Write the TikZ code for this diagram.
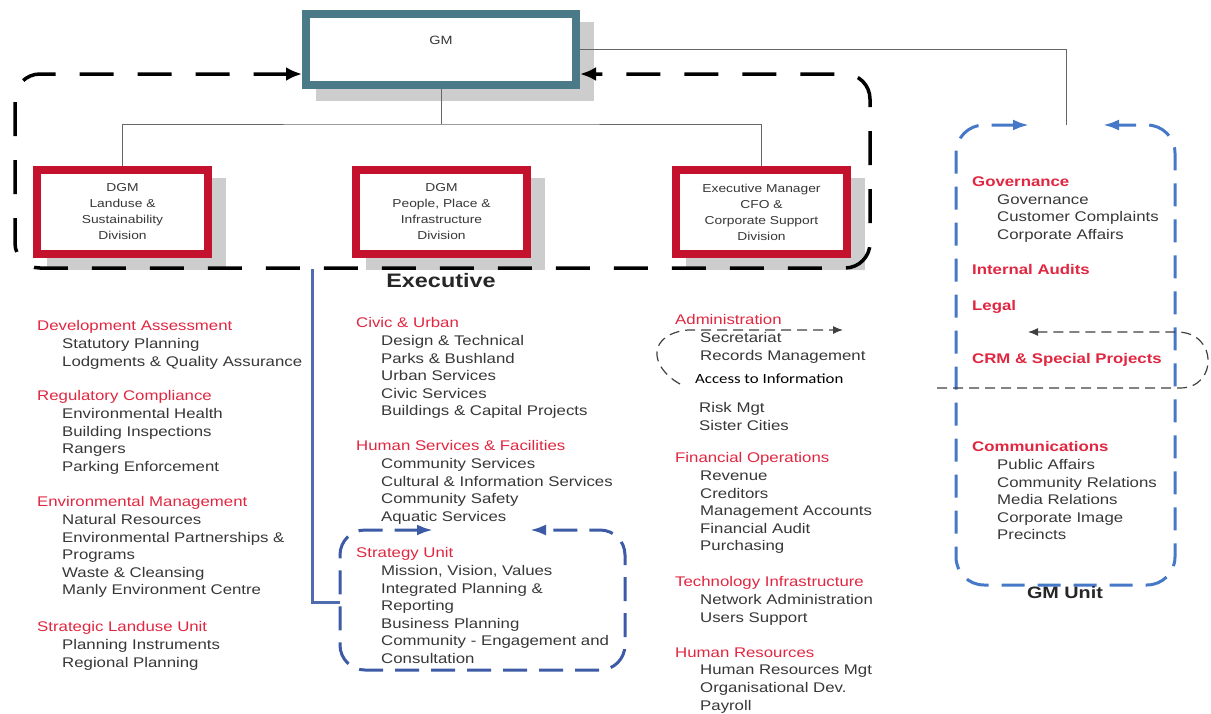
\documentclass[tikz,border=0pt]{standalone}
\usepackage{fontspec}
\setmainfont{Liberation Sans}[FakeStretch=1.2]
\newfontfamily\accfont{Carlito}[FakeStretch=1.2]
\usetikzlibrary{arrows.meta,shadows}

\definecolor{gmteal}{RGB}{74,122,136}
\definecolor{divred}{RGB}{196,18,46}
\definecolor{hdred}{RGB}{224,38,64}
\definecolor{itemgray}{RGB}{55,55,55}
\definecolor{unitblue}{RGB}{70,120,200}
\definecolor{stratblue}{RGB}{60,90,165}
\definecolor{shadowgray}{RGB}{205,205,205}

\newcommand{\hd}[1]{\textcolor{hdred}{#1}}
\newcommand{\bhd}[1]{\textcolor{hdred}{\bfseries #1}}
\newcommand{\itm}[1]{\hspace*{25pt}#1}

\tikzset{
  boxshadow/.style={general shadow={fill=shadowgray,draw=shadowgray,line width=8pt,
      shadow xshift=14pt,shadow yshift=-12pt}},
  gmbox/.style={draw=gmteal,line width=8pt,fill=white,minimum width=270pt,
      minimum height=71pt,inner sep=0pt,boxshadow},
  divbox/.style={draw=divred,line width=8pt,fill=white,minimum width=171pt,
      minimum height=84pt,inner sep=0pt,align=center,text=itemgray,
      font=\fontsize{11.5}{16}\selectfont,boxshadow},
  listtxt/.style={anchor=north west,inner sep=0pt,align=left,text=itemgray,
      font=\fontsize{14}{17.6}\selectfont},
  tree/.style={draw=black!60,line width=1pt},
  execloop/.style={line width=3.5pt,dash pattern=on 34pt off 24pt,rounded corners=25pt,
      {Latex[length=16pt,width=14pt]}-{Latex[length=16pt,width=14pt]}},
  unitloop/.style={draw=unitblue,line width=3pt,dash pattern=on 23pt off 13pt,rounded corners=28pt,
      {Latex[length=16pt,width=11pt]}-{Latex[length=16pt,width=11pt]}},
  stratloop/.style={draw=stratblue,line width=3pt,dash pattern=on 24pt off 12pt,rounded corners=25pt,
      {Latex[length=16pt,width=11pt]}-{Latex[length=16pt,width=11pt]}},
  thinloop/.style={draw=black!75,line width=1.2pt,dash pattern=on 10pt off 6pt,
      -{Latex[length=10pt,width=8pt]}},
}

\begin{document}
\begin{tikzpicture}[x=1pt,y=-1pt]
\useasboundingbox (0,0) rectangle (1211,713);

% boxes
\node[gmbox] (gm) at (441,49.5) {};
\node[font=\fontsize{12}{14}\selectfont,text=itemgray] (gmlbl) at (441,40) {GM};
\node[divbox] (dgmland) at (122.5,212) {DGM\\Landuse \&\\Sustainability\\Division};
\node[divbox] (dgmppi) at (441.5,212) {DGM\\People, Place \&\\Infrastructure\\Division};
\node[divbox] (cfo) at (761.5,212) {Executive Manager\\CFO \&\\Corporate Support\\Division};

% tree
\coordinate (bus) at (441,124);
\coordinate (gmutop) at (1066,125);
\draw[tree] (gm.south) -- (bus);
\draw[tree] (dgmland.north) |- (bus) -| (cfo.north);
\draw[tree] (gm.east) -| (gmutop);

% executive loop
\coordinate (execy) at (0,74);
\draw[execloop] (gm.west |- execy) -- (15,74) -- (15,268) -- (870,268) -- (870,74) -- (gm.east |- execy);
\node[font=\fontsize{19.5}{22}\selectfont\bfseries,text=black!85] (execlbl) at (441,281) {Executive};

% GM unit loop
\draw[unitloop] (1029,125) -- (956,125) -- (956,585) -- (1175,585) -- (1175,125) -- (1103,125);
\node[font=\fontsize{16.5}{18}\selectfont\bfseries,text=black!85] (gmunitlbl) at (1065,593) {GM Unit};

% strategy unit loop
\coordinate (stratleft) at (340,602);
\draw[stratloop] (433,530) -- (340,530) -- (340,670) -- (625,670) -- (625,530) -- (530,530);
\draw[draw=stratblue!90,line width=3pt] (312,269) |- (stratleft);

% small dashed loops
\draw[thinloop] (680,384) .. controls (648,366) and (648,334) .. (688,330) -- (843,330);
\draw[thinloop] (937,388) -- (1180,388) .. controls (1218,388) and (1218,332) .. (1177,332) -- (1028,332);

% landuse column
\node[listtxt] (devass) at (37,320.5) {\hd{Development Assessment}\\\itm{Statutory Planning}\\\itm{Lodgments \& Quality Assurance}};
\node[listtxt] (regcomp) at (37,390.5) {\hd{Regulatory Compliance}\\\itm{Environmental Health}\\\itm{Building Inspections}\\\itm{Rangers}\\\itm{Parking Enforcement}};
\node[listtxt] (envman) at (37,496.5) {\hd{Environmental Management}\\\itm{Natural Resources}\\\itm{Environmental Partnerships \&}\\\itm{Programs}\\\itm{Waste \& Cleansing}\\\itm{Manly Environment Centre}};
\node[listtxt] (stratland) at (37,621.5) {\hd{Strategic Landuse Unit}\\\itm{Planning Instruments}\\\itm{Regional Planning}};

% people place column
\node[listtxt] (civic) at (356,317.5) {\hd{Civic \& Urban}\\\itm{Design \& Technical}\\\itm{Parks \& Bushland}\\\itm{Urban Services}\\\itm{Civic Services}\\\itm{Buildings \& Capital Projects}};
\node[listtxt] (humserv) at (356,440.5) {\hd{Human Services \& Facilities}\\\itm{Community Services}\\\itm{Cultural \& Information Services}\\\itm{Community Safety}\\\itm{Aquatic Services}};
\node[listtxt] (stratunit) at (356,547.5) {\hd{Strategy Unit}\\\itm{Mission, Vision, Values}\\\itm{Integrated Planning \&}\\\itm{Reporting}\\\itm{Business Planning}\\\itm{Community - Engagement and}\\\itm{Consultation}};

% corporate column
\node[listtxt] (admin) at (675,314.5) {\hd{Administration}\\\itm{Secretariat}\\\itm{Records Management}};
\node[listtxt,text=black,font=\accfont\fontsize{14}{17}\selectfont] (access) at (695,373.5) {Access to Information};
\node[listtxt] (riskmgt) at (699,402.5) {Risk Mgt\\Sister Cities};
\node[listtxt] (finops) at (675,452.5) {\hd{Financial Operations}\\\itm{Revenue}\\\itm{Creditors}\\\itm{Management Accounts}\\\itm{Financial Audit}\\\itm{Purchasing}};
\node[listtxt] (techinf) at (675,576.5) {\hd{Technology Infrastructure}\\\itm{Network Administration}\\\itm{Users Support}};
\node[listtxt] (humres) at (675,647.5) {\hd{Human Resources}\\\itm{Human Resources Mgt}\\\itm{Organisational Dev.}\\\itm{Payroll}};

% GM unit column
\node[listtxt] (govern) at (972,176.5) {\bhd{Governance}\\\itm{Governance}\\\itm{Customer Complaints}\\\itm{Corporate Affairs}};
\node[listtxt] (audits) at (972,264.5) {\bhd{Internal Audits}};
\node[listtxt] (legal) at (972,300.5) {\bhd{Legal}};
\node[listtxt] (crmsp) at (972,353.5) {\bhd{CRM \& Special Projects}};
\node[listtxt] (comms) at (972,441.5) {\bhd{Communications}\\\itm{Public Affairs}\\\itm{Community Relations}\\\itm{Media Relations}\\\itm{Corporate Image}\\\itm{Precincts}};
\end{tikzpicture}
\end{document}
